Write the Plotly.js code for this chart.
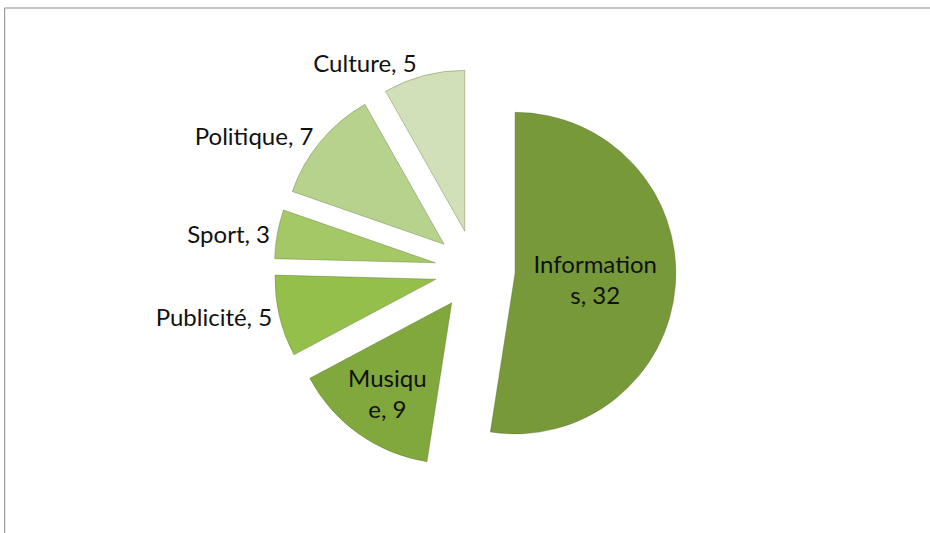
<!DOCTYPE html>
<html>
<head>
<meta charset="utf-8">
<script src="https://cdn.plot.ly/plotly-3.0.1.min.js"></script>
<style>html,body{margin:0;padding:0;background:#fff;}#chart{width:930px;height:533px;}</style>
</head>
<body>
<div id="chart"></div>
<script>
const categories = ["Informations", "Musique", "Publicité", "Sport", "Politique", "Culture"];
const values = [32, 9, 5, 3, 7, 5];
const sliceColors = ["#77993A", "#80A83C", "#93BF4A", "#A3C865", "#B6D28C", "#D1E0B8"];
const textPositions = ["inside", "inside", "outside", "outside", "outside", "outside"];

// Excel-like wrapped inside labels (sitting a little low in the slice)
function wrapLabel(label, value, pos) {
  const full = label + ", " + value;
  if (pos !== "inside") return full;
  const n = label.length - 1;
  return "<br>" + full.slice(0, n) + "<br>" + full.slice(n);
}
const labelTexts = categories.map((c, i) => wrapLabel(c, values[i], textPositions[i]));

const fontFam = "Lato, 'Open Sans', sans-serif";
const trace = {
  type: "pie",
  labels: categories,
  values: values,
  text: labelTexts,
  textinfo: "text",
  texttemplate: "%{text}",
  textposition: textPositions,
  insidetextorientation: "horizontal",
  sort: false,
  direction: "clockwise",
  rotation: 0,
  pull: [0.25, 0.25, 0.25, 0.25, 0.25, 0.25],
  marker: {colors: sliceColors, line: {color: "rgba(80,100,40,0.35)", width: 1}},
  textfont: {family: fontFam, size: 24, color: "#111"},
  outsidetextfont: {family: fontFam, size: 24, color: "#111"},
  insidetextfont: {family: fontFam, size: 24, color: "#111"},
  domain: {x: [0.2, 0.8215], y: [0.1163, 0.8705]},
  automargin: false,
  hoverinfo: "label+value+percent"
};

const layout = {
  width: 930, height: 533,
  margin: {l: 0, r: 0, t: 0, b: 0},
  paper_bgcolor: "#ffffff",
  showlegend: false,
  shapes: [
    {type: "line", xref: "paper", yref: "paper", x0: 0.005, x1: 1, y0: 0.985, y1: 0.985, line: {color: "#8a8a8a", width: 1}},
    {type: "line", xref: "paper", yref: "paper", x0: 0.005, x1: 0.005, y0: 0, y1: 0.985, line: {color: "#8a8a8a", width: 1}}
  ]
};

Plotly.newPlot("chart", [trace], layout, {displayModeBar: false, staticPlot: true});
</script>
</body>
</html>
